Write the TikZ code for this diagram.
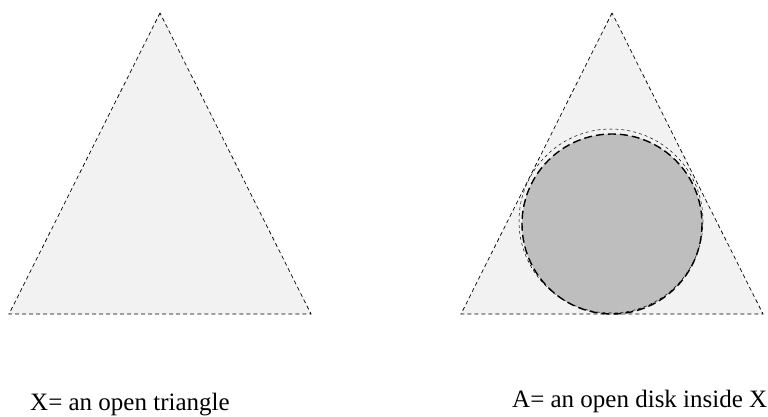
\documentclass[tikz,border=0pt]{standalone}
\usepackage{fontspec}
\setmainfont{Liberation Serif}
\usetikzlibrary{positioning}
\usetikzlibrary{calc}
\definecolor{paleregion}{HTML}{F2F2F2}
\definecolor{diskgray}{HTML}{BEBEBE}

\begin{document}
\begin{tikzpicture}[x=1pt, y=-1pt, region/.style={fill=paleregion, draw=black, dash pattern=on 4pt off 3pt, line width=0.7pt}, caption/.style={font=\fontsize{25}{28}\selectfont, inner sep=0pt, anchor=base west}]
        \useasboundingbox (0,0) rectangle (768,417);
        % Define the half width of each triangle
        \def\half{151}

        % Corners of the open triangle X
        \coordinate (XT) at (160,13);
        \coordinate (XL) at ($(XT)+(-\half,301)$);
        \coordinate (XR) at ($(XT)+(\half,301)$);

        % Corners of the triangle holding the disk
        \coordinate (YT) at (612,13);
        \coordinate (YL) at ($(YT)+(-\half,301)$);
        \coordinate (YR) at ($(YT)+(\half,301)$);

        % Draw the two triangles
        \draw[region] (XT) -- (XL) -- (XR) -- cycle;
        \draw[region] (YT) -- (YL) -- (YR) -- cycle;

        % Draw the open disk A
        \coordinate (c) at (612,224);
        \fill[diskgray] (c) circle[radius=90];
        \draw[dash pattern=on 3pt off 3pt, line width=0.5pt] ($(c)+(-1,-3)$) circle[radius=92];
        \draw[line width=1.4pt, dash pattern=on 8pt off 4pt] (c) circle[radius=90];

        % Captions
        \node[caption] (capX) at (30,410) {X= an open triangle};
        \node[caption] (capA) at (512,407) {A= an open disk inside X};
      \end{tikzpicture}
\end{document}
